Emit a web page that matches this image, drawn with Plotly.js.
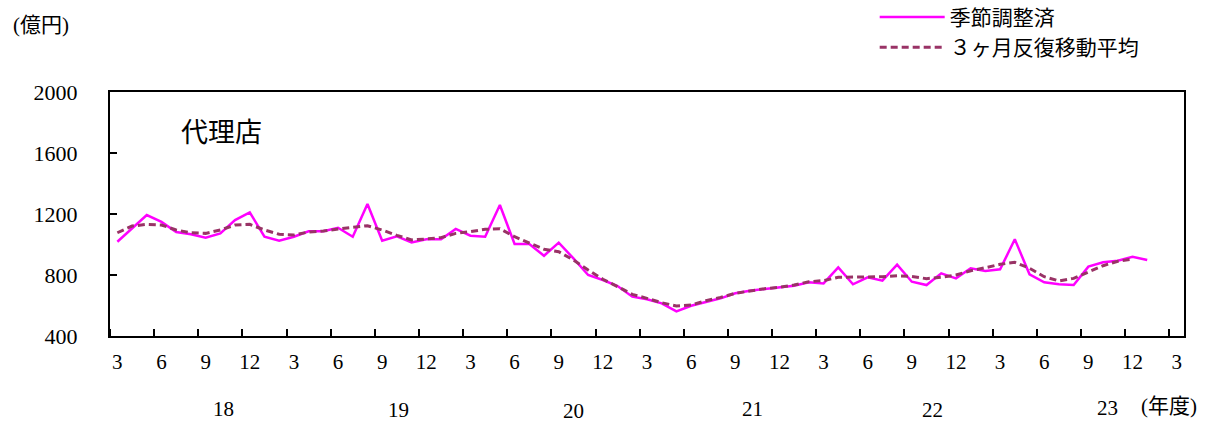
<!DOCTYPE html>
<html>
<head>
<meta charset="utf-8">
<script src="https://cdn.plot.ly/plotly-3.0.1.min.js"></script>
<style>html,body{margin:0;padding:0;background:#fff;}</style>
</head>
<body>
<div id="chart" style="width:1208px;height:423px;"></div>
<script>
// Months (fiscal-year monthly categories), March 2018 .. March 2024
const months = [
  "2018-03","2018-04","2018-05","2018-06","2018-07","2018-08","2018-09","2018-10","2018-11","2018-12",
  "2019-01","2019-02","2019-03","2019-04","2019-05","2019-06","2019-07","2019-08","2019-09","2019-10","2019-11","2019-12",
  "2020-01","2020-02","2020-03","2020-04","2020-05","2020-06","2020-07","2020-08","2020-09","2020-10","2020-11","2020-12",
  "2021-01","2021-02","2021-03","2021-04","2021-05","2021-06","2021-07","2021-08","2021-09","2021-10","2021-11","2021-12",
  "2022-01","2022-02","2022-03","2022-04","2022-05","2022-06","2022-07","2022-08","2022-09","2022-10","2022-11","2022-12",
  "2023-01","2023-02","2023-03","2023-04","2023-05","2023-06","2023-07","2023-08","2023-09","2023-10","2023-11","2023-12",
  "2024-01","2024-02","2024-03"
];

// 季節調整済 (億円), Mar 2018 .. Jan 2024
const seasonallyAdjusted = [
  1018,1105,1193,1148,1082,1067,1045,1073,1160,1211,
  1051,1025,1051,1087,1087,1110,1051,1266,1025,1053,1014,1034,
  1034,1102,1058,1051,1259,1003,1003,926,1012,909,800,767,
  728,658,641,614,562,598,625,647,680,697,708,719,
  730,752,745,850,739,785,763,868,756,734,811,778,
  844,826,837,1034,805,752,739,734,855,883,894,920,
  898
];

// ３ヶ月反復移動平均 (億円), Mar 2018 .. Dec 2023
const movingAverage = [
  1077,1121,1132,1128,1095,1077,1073,1095,1128,1132,
  1095,1067,1062,1082,1089,1103,1113,1123,1095,1060,1030,1036,
  1045,1073,1084,1100,1103,1051,1012,969,953,898,833,772,
  724,673,647,618,597,603,631,653,680,697,710,719,
  734,756,763,785,785,789,789,795,790,776,785,800,
  828,848,870,883,844,789,761,778,822,861,890,904
];

// Month tick labels (every third month)
const tickLabels = ["3","6","9","12","3","6","9","12","3","6","9","12","3",
                    "6","9","12","3","6","9","12","3","6","9","12","3"];
const fiscalYears = ["18","19","20","21","22","23"];

const idx = months.map((m, i) => i);
const FONT = "'Liberation Serif', 'Noto Sans CJK JP', serif";

const traces = [
  {
    type: 'scatter', mode: 'lines', name: '季節調整済',
    x: idx.slice(0, seasonallyAdjusted.length), y: seasonallyAdjusted,
    line: {color: '#FF00FF', width: 2.5},
    hoverinfo: 'x+y'
  },
  {
    type: 'scatter', mode: 'lines', name: '３ヶ月反復移動平均',
    x: idx.slice(0, movingAverage.length), y: movingAverage,
    line: {color: '#993366', width: 3, dash: '7px,4px'},
    hoverinfo: 'x+y'
  }
];

const labelVals = idx.filter(i => i % 3 === 0);
const boundaryVals = labelVals.map(v => v - 0.5);

// year label placement (x in month index, y in paper units)
const yearPos = [[7.2, -0.299], [19.1, -0.305], [31.0, -0.307], [43.2, -0.301], [55.4, -0.305], [67.3, -0.295]];

const annotations = fiscalYears.map((t, k) => ({
  text: t, xref: 'x', yref: 'paper', x: yearPos[k][0], y: yearPos[k][1],
  xanchor: 'center', yanchor: 'middle', showarrow: false,
  font: {family: FONT, size: 21, color: '#000'}
}));
annotations.push({
  text: '(年度)', xref: 'paper', yref: 'paper', x: 0.958, y: -0.285,
  xanchor: 'left', yanchor: 'middle', showarrow: false,
  font: {family: FONT, size: 21, color: '#000'}
});
annotations.push({
  text: '(億円)', xref: 'paper', yref: 'paper', x: -0.092, y: 1.275,
  xanchor: 'left', yanchor: 'middle', showarrow: false,
  font: {family: FONT, size: 21, color: '#000'}
});
annotations.push({
  text: '代理店', xref: 'paper', yref: 'paper', x: 0.064, y: 0.832,
  xanchor: 'left', yanchor: 'middle', showarrow: false,
  font: {family: FONT, size: 27, color: '#000'}
});

const layout = {
  width: 1208, height: 423,
  margin: {l: 110, r: 24, t: 92, b: 87, autoexpand: false},
  paper_bgcolor: '#fff', plot_bgcolor: '#fff',
  font: {family: FONT, size: 21, color: '#000'},
  showlegend: true,
  legend: {
    x: 0.712, xanchor: 'left', y: 1.39, yanchor: 'top',
    bgcolor: 'rgba(0,0,0,0)', itemwidth: 65, tracegroupgap: 0,
    font: {family: FONT, size: 21, color: '#000'}
  },
  xaxis: {
    range: [-0.5, 72.5], tickmode: 'array', tickvals: labelVals, ticktext: tickLabels,
    ticks: '', showline: true, mirror: true, linecolor: '#000', linewidth: 2,
    showgrid: false, zeroline: false, ticklabelstandoff: 6,
    tickfont: {family: FONT, size: 21, color: '#000'},
    minor: {tickmode: 'array', tickvals: boundaryVals, ticks: 'inside', ticklen: 7, tickwidth: 2, tickcolor: '#000', showgrid: false},
    fixedrange: true
  },
  yaxis: {
    range: [400, 2000], tickmode: 'linear', tick0: 400, dtick: 400,
    ticks: 'inside', ticklen: 7, tickwidth: 2, tickcolor: '#000',
    tickfont: {family: FONT, size: 22, color: '#000'},
    showline: true, mirror: true, linecolor: '#000', linewidth: 2,
    showgrid: false, zeroline: false, ticklabelstandoff: 26, fixedrange: true
  },
  annotations: annotations
};

Plotly.newPlot('chart', traces, layout, {displayModeBar: false, staticPlot: false});
</script>
</body>
</html>
